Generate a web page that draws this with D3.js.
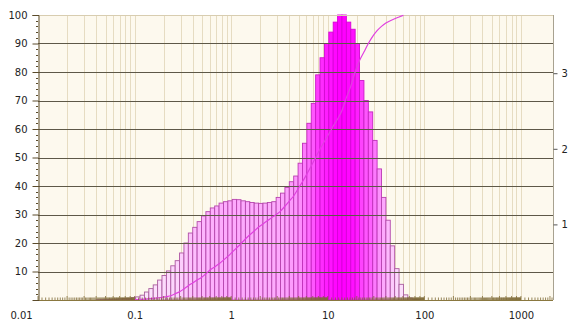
<!DOCTYPE html>
<html>
<head>
<meta charset="utf-8">
<script src="https://cdn.jsdelivr.net/npm/d3@7"></script>
<style>
  html, body { margin: 0; padding: 0; background: #ffffff; }
  svg { display: block; }
  text { font-family: "DejaVu Sans", Verdana, sans-serif; font-size: 10px; fill: #222; }
</style>
</head>
<body>
<svg id="chart" width="569" height="325"></svg>
<script>
// Size classes: geometric bins starting at 0.04 µm, 22 classes per decade
const binStart = 0.04;
const binsPerDecade = 22;

// Frequency per size class (normalised so the modal class = 100)
const frequency = [
  0.1, 0.15, 0.2, 0.25, 0.3, 0.4, 0.5, 0.6, 0.8, 1.1,
  1.7, 2.8, 4.0, 5.3, 7.0, 8.6, 10.2, 12.0, 13.8, 16.5,
  20, 23.5, 25.5, 27.5, 29.5, 31, 32.3, 33, 34, 34.5,
  34.8, 35.3, 35.2, 34.8, 34.5, 34.2, 34, 33.9, 34, 34.2,
  34.5, 36, 37.5, 39.5, 41.5, 43.5, 48, 55, 62, 69,
  79, 85, 90, 94, 97.5, 100, 100, 97.5, 95, 90,
  77, 70, 66, 56, 46, 36, 28, 19, 11, 5.5,
  1.8, 0.7, 0.3, 0.1
];

// Cumulative undersize (%) at the upper edge of each class
const cumulative = [
  null, null, null, null, null, 0, 0.02, 0.05, 0.1, 0.2,
  0.3, 0.45, 0.6, 0.75, 0.9, 1.2, 1.5, 2.2, 2.9, 3.9,
  5.0, 6.0, 7.0, 7.9, 9.2, 10.6, 11.6, 12.7, 14.0, 15.3,
  16.8, 18.3, 19.8, 21.4, 22.9, 24.2, 25.6, 26.7, 27.8, 28.9,
  30.0, 31.2, 32.9, 34.7, 36.5, 39.0, 41.5, 44.2, 47, 50,
  53, 55.6, 58.3, 61, 63.5, 66.5, 71, 75, 80, 84,
  87, 90, 92.5, 94.5, 96, 97.2, 98, 98.7, 99.3, 99.9
];

const xTickValues = [0.01, 0.1, 1, 10, 100, 1000];
const xTickLabels = ["0.01", "0.1", "1", "10", "100", "1000"];
const yLeftTicks = [10, 20, 30, 40, 50, 60, 70, 80, 90, 100];
const yRightTicks = [1, 2, 3];

const svg = d3.select("#chart");
const plotL = 38, plotR = 553, plotT = 15, plotB = 300;

const x = d3.scaleLog().domain([0.01, 2150]).range([plotL, plotR]);
const y = d3.scaleLinear().domain([0, 100]).range([plotB, plotT]);
const yR = d3.scaleLinear().domain([0, 3.77]).range([plotB, plotT]);

// plot background
svg.append("rect")
  .attr("x", plotL).attr("y", plotT)
  .attr("width", plotR - plotL).attr("height", plotB - plotT)
  .attr("fill", "#fdf9ee");

// vertical log grid (2..9 and decades), up to 1000
const vGrid = [];
for (let e = -2; e <= 3; e++) {
  for (let k = 1; k <= 9; k++) {
    const v = k * Math.pow(10, e);
    if (v > 0.01 && v <= 1000 * 1.0001) vGrid.push(v);
  }
}
svg.append("g").selectAll("line").data(vGrid).join("line")
  .attr("x1", d => Math.round(x(d)) + 0.5).attr("x2", d => Math.round(x(d)) + 0.5)
  .attr("y1", plotT).attr("y2", plotB)
  .attr("stroke", "#e6dcc2").attr("stroke-width", 1);

// class edges
const edges = d3.range(frequency.length + 1)
  .map(i => binStart * Math.pow(10, i / binsPerDecade));

const fillScale = v => d3.interpolateRgb("#fce4fc", "#ff00ff")(Math.pow(v / 100, 1.3));

// histogram bars
svg.append("g").selectAll("rect").data(frequency).join("rect")
  .attr("x", (d, i) => x(edges[i]))
  .attr("width", (d, i) => x(edges[i + 1]) - x(edges[i]))
  .attr("y", d => y(d))
  .attr("height", d => y(0) - y(d))
  .attr("fill", d => fillScale(d))
  .attr("stroke", d => d3.interpolateRgb("#a8609c", "#d800d8")(Math.pow(d / 100, 1.2)))
  .attr("stroke-width", 0.9);

// horizontal grid
svg.append("g").selectAll("line").data(yLeftTicks.filter(d => d < 100)).join("line")
  .attr("x1", plotL).attr("x2", plotR)
  .attr("y1", d => Math.round(y(d)) + 0.5).attr("y2", d => Math.round(y(d)) + 0.5)
  .attr("stroke", "#5e5848").attr("stroke-width", 1);

// top and right frame
svg.append("line").attr("x1", plotL).attr("x2", plotR).attr("y1", plotT + 0.5).attr("y2", plotT + 0.5)
  .attr("stroke", "#d8cdb0");
svg.append("line").attr("x1", plotR + 0.5).attr("x2", plotR + 0.5).attr("y1", plotT).attr("y2", plotB)
  .attr("stroke", "#a8a290");

// cumulative curve
const cumPts = cumulative.map((c, i) => [edges[i + 1], c]).filter(p => p[1] !== null);
svg.append("path")
  .datum(cumPts)
  .attr("fill", "none")
  .attr("stroke", "#e040e0")
  .attr("stroke-width", 1.2)
  .attr("d", d3.line().x(d => x(d[0])).y(d => y(d[1])).curve(d3.curveMonotoneX));

// bottom axis: minor ticks at every tenth of a decade
const minor = [];
for (let e = -2; e <= 3; e++) {
  for (let k = 10; k <= 99; k++) {
    const v = k / 10 * Math.pow(10, e);
    if (v >= 0.01 && v <= 2150) minor.push({ v, major: k % 10 === 0 });
  }
}
svg.append("g").selectAll("line").data(minor).join("line")
  .attr("x1", d => x(d.v)).attr("x2", d => x(d.v))
  .attr("y1", plotB).attr("y2", d => plotB - (d.major ? 4 : 2.5))
  .attr("stroke", "#7d6a36").attr("stroke-width", 0.8);

svg.append("line").attr("x1", plotL).attr("x2", plotR).attr("y1", plotB + 0.5).attr("y2", plotB + 0.5)
  .attr("stroke", "#8a7840").attr("stroke-width", 1);

const xAxis = d3.axisBottom(x).tickValues(xTickValues)
  .tickFormat((d, i) => xTickLabels[i]).tickSize(0).tickPadding(11);
const gx = svg.append("g").attr("transform", `translate(0,${plotB + 1})`).call(xAxis);
gx.select(".domain").remove();
gx.selectAll("text").attr("fill", "#222").style("font-family", "DejaVu Sans, sans-serif").style("font-size", "10px");
gx.selectAll(".tick").filter(d => d === 0.01).select("text").attr("dx", -17);

// left axis
const yAxis = d3.axisLeft(y).tickValues(yLeftTicks).tickSize(6).tickPadding(5);
const gy = svg.append("g").attr("transform", `translate(${plotL + 0.5},0)`).call(yAxis);
gy.select(".domain").attr("stroke", "#5a4a2a");
gy.selectAll(".tick line").attr("stroke", "#5a4a2a");
gy.selectAll("text").attr("fill", "#222").style("font-family", "DejaVu Sans, sans-serif").style("font-size", "10px");

// left axis minor ticks
svg.append("g").selectAll("line").data(d3.range(2, 100, 2).filter(d => d % 10 !== 0)).join("line")
  .attr("x1", plotL - 2).attr("x2", plotL)
  .attr("y1", d => Math.round(y(d)) + 0.5).attr("y2", d => Math.round(y(d)) + 0.5)
  .attr("stroke", "#5a4a2a");

// right axis
const yAxisR = d3.axisRight(yR).tickValues(yRightTicks).tickFormat(d3.format("d"))
  .tickSize(4).tickPadding(4);
const gr = svg.append("g").attr("transform", `translate(${plotR + 0.5},0)`).call(yAxisR);
gr.select(".domain").remove();
gr.selectAll(".tick line").attr("stroke", "#555");
gr.selectAll("text").attr("fill", "#222").style("font-family", "DejaVu Sans, sans-serif").style("font-size", "10px");
</script>
</body>
</html>
